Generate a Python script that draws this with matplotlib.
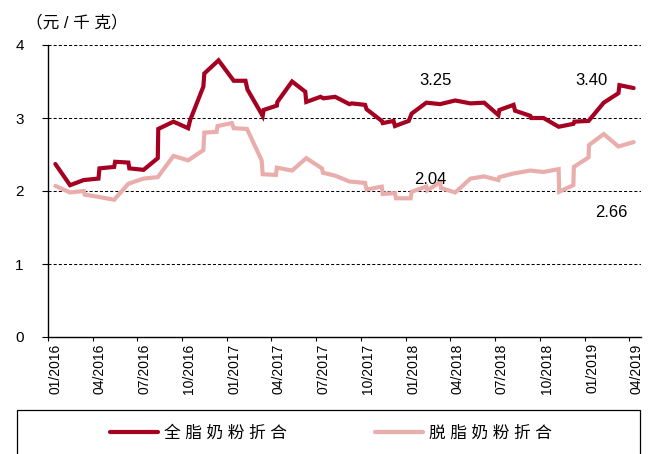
import pandas as pd
import matplotlib
matplotlib.use('Agg')
import matplotlib.pyplot as plt
import matplotlib.dates as mdates
from matplotlib.patches import Rectangle

plt.rcParams['font.family'] = ['Liberation Sans', 'Noto Sans CJK SC']
plt.rcParams['lines.scale_dashes'] = False

# 全脂奶粉折合（元/千克）
whole_dates = ['2016-01-16', '2016-02-15', '2016-03-14', '2016-04-13', '2016-04-15', '2016-05-15',
               '2016-05-17', '2016-06-13', '2016-06-15', '2016-07-14', '2016-08-12', '2016-08-13',
               '2016-09-13', '2016-10-13', '2016-10-17', '2016-11-13', '2016-11-15', '2016-12-14',
               '2017-01-14', '2017-02-07', '2017-02-11', '2017-03-14', '2017-03-16', '2017-04-12',
               '2017-04-13', '2017-05-13', '2017-06-09', '2017-06-11', '2017-07-10', '2017-07-16',
               '2017-08-09', '2017-09-07', '2017-09-12', '2017-10-09', '2017-10-12', '2017-11-12',
               '2017-11-14', '2017-12-06', '2017-12-09', '2018-01-06', '2018-01-12', '2018-02-11',
               '2018-03-11', '2018-04-11', '2018-05-12', '2018-06-09', '2018-07-08', '2018-07-10',
               '2018-08-08', '2018-08-11', '2018-09-11', '2018-09-13', '2018-10-08', '2018-11-08',
               '2018-12-08', '2018-12-10', '2019-01-08', '2019-02-08', '2019-03-10', '2019-03-12',
               '2019-04-10']
whole_vals = [2.37, 2.08, 2.15, 2.17, 2.31, 2.33,
              2.40, 2.39, 2.31, 2.29, 2.45, 2.85,
              2.95, 2.86, 2.97, 3.43, 3.61, 3.79,
              3.51, 3.51, 3.39, 3.03, 3.11, 3.17,
              3.22, 3.50, 3.36, 3.22, 3.29, 3.27,
              3.29, 3.19, 3.20, 3.18, 3.12, 2.96,
              2.93, 2.96, 2.89, 2.96, 3.06, 3.21,
              3.19, 3.24, 3.20, 3.21, 3.04, 3.11,
              3.18, 3.10, 3.03, 3.00, 3.00, 2.88,
              2.92, 2.95, 2.96, 3.21, 3.34, 3.45,
              3.41]

# 脱脂奶粉折合（元/千克）
skim_dates = ['2016-01-16', '2016-02-15', '2016-03-14', '2016-03-16', '2016-04-13', '2016-05-15',
              '2016-06-13', '2016-07-14', '2016-08-12', '2016-09-13', '2016-10-13', '2016-11-13',
              '2016-11-15', '2016-12-10', '2016-12-12', '2017-01-10', '2017-01-14', '2017-02-10',
              '2017-03-12', '2017-03-14', '2017-04-10', '2017-04-12', '2017-05-13', '2017-06-11',
              '2017-07-13', '2017-07-15', '2017-08-09', '2017-09-07', '2017-10-09', '2017-10-12',
              '2017-11-12', '2017-11-14', '2017-12-09', '2017-12-11', '2018-01-10', '2018-01-12',
              '2018-02-11', '2018-02-13', '2018-03-11', '2018-03-13', '2018-04-11', '2018-05-12',
              '2018-06-09', '2018-07-08', '2018-07-10', '2018-08-08', '2018-09-11', '2018-10-08',
              '2018-11-08', '2018-11-09', '2018-12-08', '2018-12-09', '2019-01-08', '2019-01-09',
              '2019-02-08', '2019-03-10', '2019-04-10']
skim_vals = [2.07, 1.98, 2.00, 1.95, 1.92, 1.88,
             2.10, 2.17, 2.19, 2.48, 2.42, 2.56,
             2.80, 2.81, 2.89, 2.93, 2.86, 2.85,
             2.42, 2.23, 2.22, 2.32, 2.28, 2.45,
             2.31, 2.25, 2.21, 2.13, 2.11, 2.02,
             2.06, 1.96, 1.97, 1.90, 1.90, 1.99,
             2.06, 2.01, 2.12, 2.04, 1.98, 2.17,
             2.20, 2.15, 2.19, 2.24, 2.28, 2.26,
             2.30, 1.99, 2.08, 2.33, 2.46, 2.63,
             2.78, 2.61, 2.67]

series_names = ['全 脂 奶 粉 折 合', '脱 脂 奶 粉 折 合']
colors = ['#A50021', '#E9AEAC']

# 标注
note_text = ['3.25', '3.40', '2.04', '2.66']
note_x = ['2018-03-01', '2019-01-13', '2018-02-19', '2019-02-23']
note_y = [3.52, 3.52, 2.16, 1.70]

tick_dates = pd.date_range('2016-01-01', '2019-04-01', freq='3MS')

fig = plt.figure(figsize=(6.51, 4.54), dpi=100)
ax = fig.add_axes([48 / 651, 1 - 337 / 454, (641 - 48) / 651, (337 - 45) / 454])

ax.plot(pd.to_datetime(whole_dates), whole_vals, color=colors[0], lw=3.0,
        solid_joinstyle='miter', solid_capstyle='round', label=series_names[0])
ax.plot(pd.to_datetime(skim_dates), skim_vals, color=colors[1], lw=3.0,
        solid_joinstyle='miter', solid_capstyle='round', label=series_names[1])

for t, x, y in zip(note_text, note_x, note_y):
    ax.text(pd.Timestamp(x), y, t, fontsize=12, ha='center', va='center')

ax.set_ylim(0, 4)
ax.set_yticks([0, 1, 2, 3, 4])
ax.set_xlim(pd.Timestamp('2016-01-01'), pd.Timestamp('2019-04-25'))
ax.set_xticks(tick_dates)
ax.xaxis.set_major_formatter(mdates.DateFormatter('%m/%Y'))
for lab in ax.get_xticklabels():
    lab.set_rotation(90)
    lab.set_ha('left')
    lab.set_va('top')

ax.tick_params(axis='y', direction='out', length=4.5, width=0.8, pad=13, labelsize=11)
ax.tick_params(axis='x', direction='out', length=3, width=0.8, pad=1.5, labelsize=10)

for y in [1, 2, 3, 4]:
    ax.axhline(y, color='black', lw=0.75, dashes=(2.2, 1.5), zorder=0)

ax.spines['top'].set_visible(False)
ax.spines['right'].set_visible(False)
ax.spines['left'].set_linewidth(1.0)
ax.spines['bottom'].set_linewidth(1.0)

fig.text(26 / 651, 1 - 22 / 454, '（元 / 千 克）', fontsize=12, ha='left', va='center')

# 图例外框
fig.patches.append(Rectangle((17 / 651, -0.05), (640 - 17) / 651, 0.05 + 1 - 410 / 454,
                             transform=fig.transFigure, fill=False, edgecolor='black', lw=0.9))
fig.legend(loc='center', bbox_to_anchor=(331 / 651, 1 - 433 / 454), ncol=2, frameon=False,
           fontsize=12, handlelength=2.9, handletextpad=0.36, columnspacing=5.3)

plt.savefig('out.png', dpi=100)
